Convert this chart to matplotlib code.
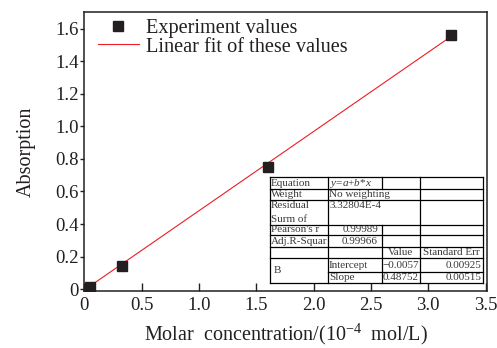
import matplotlib
matplotlib.use("Agg")
import matplotlib.pyplot as plt
import numpy as np

plt.rcParams["font.family"] = ["Liberation Serif", "DejaVu Serif"]
plt.rcParams["mathtext.fontset"] = "custom"
plt.rcParams["mathtext.rm"] = "Liberation Serif"
plt.rcParams["mathtext.it"] = "Liberation Serif:italic"

# measured standards
conc = [0.05, 0.33, 1.6, 3.2]          # 10^-4 mol/L
absorb = [0.015, 0.14, 0.75, 1.56]

# linear fit results (y = a + b*x)
intercept, intercept_err = -0.0057, 0.00925
slope, slope_err = 0.48752, 0.00515
pearson_r = 0.99989
adj_r2 = 0.99966
rss = "3.32804E-4"

x_ticks = [0, 0.5, 1.0, 1.5, 2.0, 2.5, 3.0, 3.5]
x_tick_labels = ["0", "0.5", "1.0", "1.5", "2.0", "2.5", "3.0", "3.5"]
y_ticks = [0, 0.2, 0.4, 0.6, 0.8, 1.0, 1.2, 1.4, 1.6]
y_tick_labels = ["0", "0.2", "0.4", "0.6", "0.8", "1.0", "1.2", "1.4", "1.6"]

W, H = 497, 348
fig = plt.figure(figsize=(W / 100, H / 100), dpi=100)
ax = fig.add_axes([84 / W, 1 - 291 / H, (487 - 84) / W, (291 - 12) / H])

ink = "#231f20"
ax.plot(conc, absorb, "s", color=ink, markersize=7.5, zorder=4,
        label="Experiment values")
xf = np.array([min(conc), max(conc)])
ax.plot(xf, intercept + slope * xf, "-", color="#ee1c25", linewidth=0.8,
        zorder=3, label="Linear fit of these values")

ax.set_xlim(-0.003, 3.512)
ax.set_ylim(-0.012, 1.704)
ax.set_xticks(x_ticks)
ax.set_xticklabels(x_tick_labels)
ax.set_yticks(y_ticks)
ax.set_yticklabels(y_tick_labels)
ax.tick_params(axis="x", direction="in", length=6, width=1, pad=4,
               labelsize=13.5, colors=ink)
ax.tick_params(axis="y", direction="out", length=3, width=1, pad=1,
               labelsize=13.5, colors=ink)
for s in ax.spines.values():
    s.set_linewidth(1.1)
    s.set_color(ink)

ax.set_xlabel("Molar  concentration/(10$^{-4}$  mol/L)", fontsize=14.5,
              color=ink, labelpad=6)
ax.set_ylabel("Absorption", fontsize=14.5, color=ink, labelpad=14)

ax.legend(loc="upper left", bbox_to_anchor=(4 / 403, 1 + 3 / 279),
          frameon=False, fontsize=14.6, handlelength=2.0,
          handletextpad=0.35, labelspacing=-0.05, borderpad=0.1,
          borderaxespad=0.4, labelcolor=ink)

# fit-statistics table drawn on a pixel overlay
ov = fig.add_axes([0, 0, 1, 1], facecolor="none")
ov.set_xlim(0, W)
ov.set_ylim(H, 0)
ov.axis("off")

L, C1, C2, C3, R = 270, 328, 382, 420, 483
rows = [177, 189, 200, 225, 235, 247, 258, 272, 283]
lc = dict(color="black", linewidth=0.9)

# outer frame and row rules
for y in rows:
    ov.plot([L, R], [y, y], **lc)
ov.lines[-2].set_data([C1, R], [rows[7], rows[7]])  # B cell spans two rows
ov.plot([L, L], [rows[0], rows[-1]], **lc)
ov.plot([R, R], [rows[0], rows[-1]], **lc)
ov.plot([C1, C1], [rows[0], rows[-1]], **lc)
ov.plot([C3, C3], [rows[0], rows[-1]], **lc)
# column 2/3 rule is interrupted where text overflows
ov.plot([C2, C2], [rows[0], rows[1]], **lc)
ov.plot([C2, C2], [rows[3], rows[-1]], **lc)

tc = "#3a3a3a"
fs = 8
def cell(x, y, s, ha="left", **kw):
    ov.text(x, y, s, ha=ha, va="center", fontsize=fs, color=tc, **kw)

def mid(i):
    return (rows[i] + rows[i + 1]) / 2

cell(L + 1, mid(0), "Equation")
cell(C1 + 2, mid(0), "$y$=$a$+$b$*$x$")
cell(L + 1, mid(1), "Weight")
cell(C1 + 1, mid(1), "No weighting")
cell(L + 1, rows[2] + 6, "Residual")
cell(L + 1, rows[2] + 19, "Surm of")
cell(C1 + 1, rows[2] + 6, rss)
cell(L + 1, mid(3), "Pearson's r")
cell(C2 - 4, mid(3), f"{pearson_r:.5f}", ha="right")
cell(L + 1, mid(4), "Adj.R-Squar")
cell(C2 - 4, mid(4), f"{adj_r2:.5f}", ha="right")
cell((C2 + C3) / 2, mid(5), "Value", ha="center")
cell((C3 + R) / 2, mid(5), "Standard Err", ha="center")
cell(L + 4, (rows[6] + rows[8]) / 2, "B")
cell(C1 + 1, mid(6), "Intercept")
cell(C1 + 1, mid(7), "Slope")
cell(C3 - 1, mid(6), f"\u2212{abs(intercept):.4f}", ha="right")
cell(C3 - 1, mid(7), f"{slope:.5f}", ha="right")
cell(R - 2, mid(6), f"{intercept_err:.5f}", ha="right")
cell(R - 2, mid(7), f"{slope_err:.5f}", ha="right")

fig.savefig("out.png", dpi=100)
